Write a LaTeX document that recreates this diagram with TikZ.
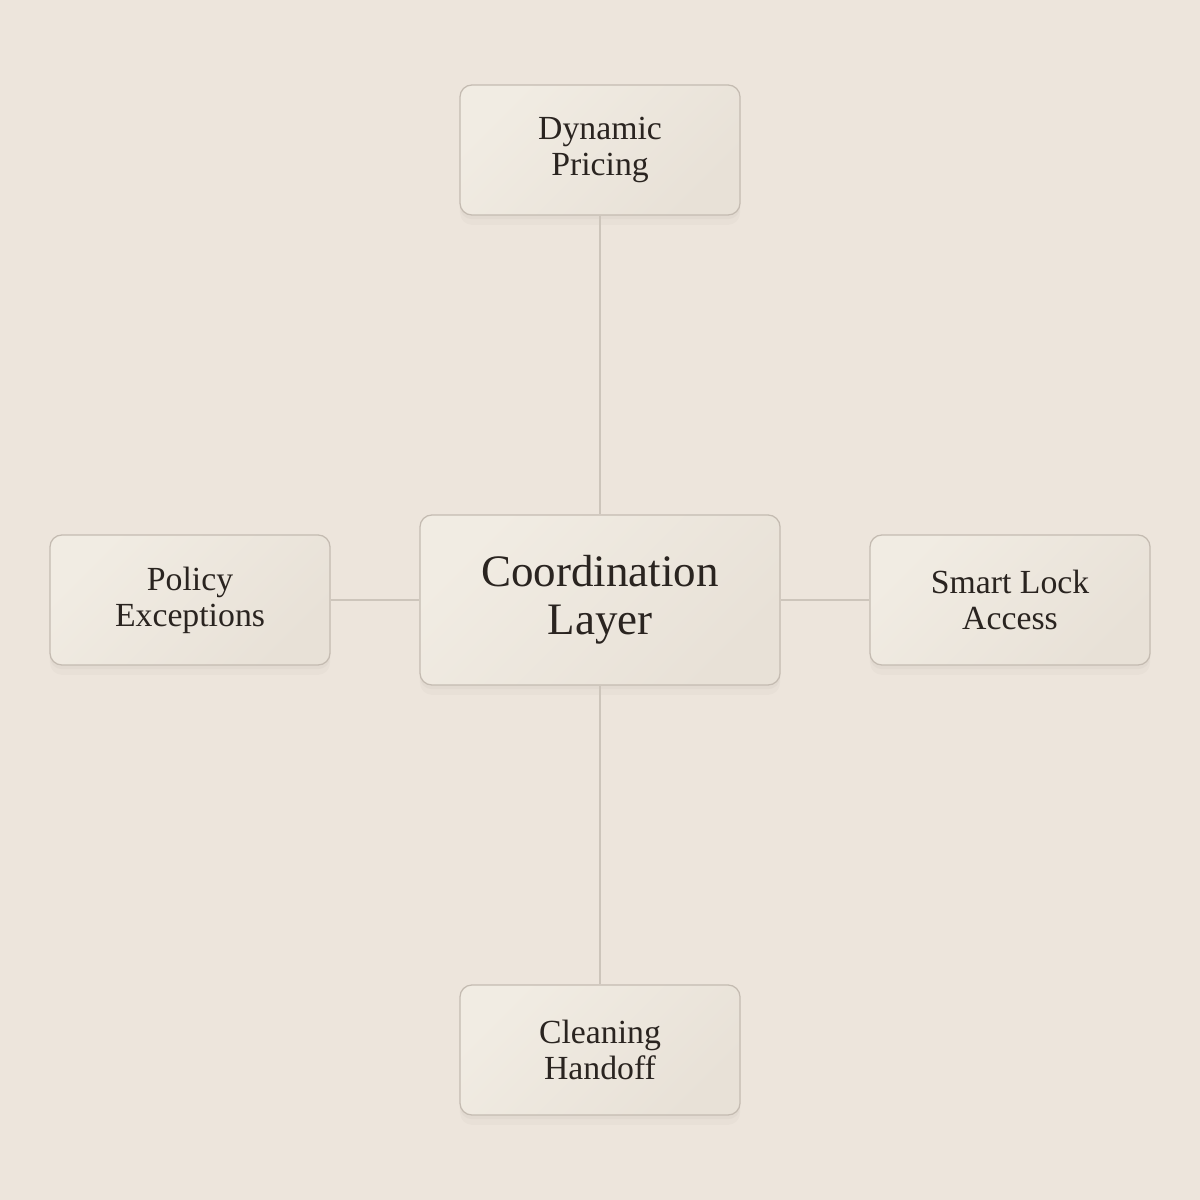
\documentclass[tikz,border=0pt]{standalone}
\usepackage{fontspec}
\setmainfont{Liberation Serif}
\usepackage{tikz}
\usetikzlibrary{positioning}
\definecolor{bgcol}{HTML}{EDE5DC}
\definecolor{boxtop}{HTML}{F1ECE3}
\definecolor{boxbot}{HTML}{E8E1D7}
\definecolor{boxline}{HTML}{C4BBB1}
\definecolor{linkcol}{HTML}{CDC5BB}
\definecolor{inkcol}{HTML}{2A2420}

\begin{document}
\begin{tikzpicture}[x=0.025cm,y=-0.025cm,
    box/.style={rectangle,rounded corners=0.3cm,draw=boxline,line width=0.9pt,
      left color=boxtop,right color=boxbot,shading angle=45,text=inkcol,align=center,
      minimum width=7cm,minimum height=3.25cm,inner sep=0pt,
      font=\fontsize{24}{25.5}\selectfont,
      preaction={fill=black,opacity=0.02,transform canvas={yshift=-7pt}},
      preaction={fill=black,opacity=0.025,transform canvas={yshift=-3pt}}},
    hub/.style={box,minimum width=9cm,minimum height=4.25cm,font=\fontsize{32}{34}\selectfont},
    link/.style={draw=linkcol,line width=0.9pt}]
  \fill[bgcol] (0,0) rectangle (1200,1200);
  \node[hub](coord) at (600,600){Coordination\\Layer};
  \node[box](pricing) at (600,150){Dynamic\\Pricing};
  \node[box](policy) at (190,600){Policy\\Exceptions};
  \node[box](lock) at (1010,600){Smart Lock\\Access};
  \node[box](cleaning) at (600,1050){Cleaning\\Handoff};
  \draw[link] (pricing) -- (coord);
  \draw[link] (policy) -- (coord);
  \draw[link] (lock) -- (coord);
  \draw[link] (cleaning) -- (coord);
\end{tikzpicture}
\end{document}
